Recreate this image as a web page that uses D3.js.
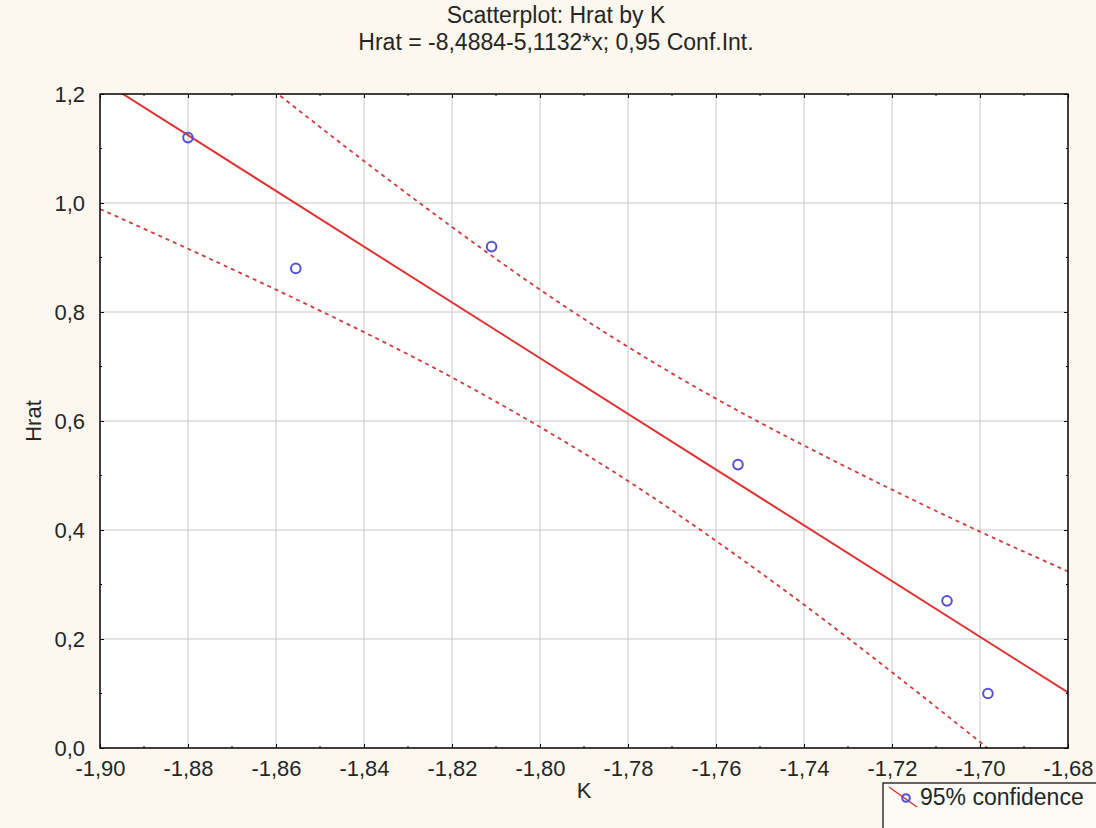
<!DOCTYPE html>
<html>
<head>
<meta charset="utf-8">
<script src="https://cdn.jsdelivr.net/npm/d3@7"></script>
<style>
  body { margin: 0; background: #fcf8ef; }
  svg { display: block; font-family: "Liberation Sans", Arial, sans-serif; }
</style>
</head>
<body>
<svg id="chart" width="1096" height="828"></svg>
<script>
// data
const kValues = [-1.880, -1.8555, -1.811, -1.755, -1.7075, -1.6982];
const hratValues = [1.12, 0.88, 0.92, 0.52, 0.27, 0.10];

// fitted line Hrat = -8,4884 - 5,1132*K, ends at the frame
const fitK = [-1.90, -1.68];
const fitH = [1.2267, 0.1018];

// 95% confidence band, read at each x tick
const bandK = [-1.90, -1.88, -1.86, -1.84, -1.82, -1.80, -1.78, -1.76, -1.74, -1.72, -1.70, -1.68];
const bandUpper = [1.465, 1.333, 1.203, 1.077, 0.956, 0.841, 0.736, 0.641, 0.555, 0.474, 0.397, 0.324];
const bandLower = [0.989, 0.916, 0.841, 0.763, 0.680, 0.589, 0.490, 0.380, 0.263, 0.139, 0.011, -0.120];

const xTicks = [-1.90, -1.88, -1.86, -1.84, -1.82, -1.80, -1.78, -1.76, -1.74, -1.72, -1.70, -1.68];
const yTicks = [0.0, 0.2, 0.4, 0.6, 0.8, 1.0, 1.2];

const titleText = "Scatterplot: Hrat by K";
const subtitleText = "Hrat = -8,4884-5,1132*x; 0,95 Conf.Int.";
const legendText = "95% confidence";

const svg = d3.select("#chart");
const margin = { top: 94, right: 28, bottom: 80, left: 100 };
const width = +svg.attr("width") - margin.left - margin.right;
const height = +svg.attr("height") - margin.top - margin.bottom;
const FS = 22;     // tick / axis text
const FT = 23;     // titles, legend

const locale = d3.formatLocale({ decimal: ",", thousands: " ", grouping: [3], currency: ["", ""], minus: "-" });
const fmtX = locale.format(".2f");
const fmtY = locale.format(".1f");

const x = d3.scaleLinear().domain([-1.90, -1.68]).range([0, width]);
const y = d3.scaleLinear().domain([0, 1.2]).range([height, 0]);

const red = "#e03434";
const dashRed = "#d43a3a";
const textCol = "#262626";

svg.append("rect").attr("width", 1096).attr("height", 828).attr("fill", "#fcf8ef");

// titles
svg.append("text").attr("x", 556).attr("y", 23).attr("text-anchor", "middle")
  .attr("font-size", FT).attr("fill", textCol).text(titleText);
svg.append("text").attr("x", 556).attr("y", 50).attr("text-anchor", "middle")
  .attr("font-size", FT).attr("fill", textCol).text(subtitleText);

const g = svg.append("g").attr("transform", `translate(${margin.left},${margin.top})`);

g.append("rect").attr("width", width).attr("height", height).attr("fill", "#ffffff");

g.append("clipPath").attr("id", "plotclip")
  .append("rect").attr("width", width).attr("height", height);

// grid
g.append("g")
  .selectAll("line").data(xTicks.slice(1, -1)).join("line")
  .attr("x1", d => x(d)).attr("x2", d => x(d)).attr("y1", 0).attr("y2", height)
  .attr("stroke", "#c8c8c8").attr("stroke-width", 1);
g.append("g")
  .selectAll("line").data(yTicks.slice(1, -1)).join("line")
  .attr("y1", d => y(d)).attr("y2", d => y(d)).attr("x1", 0).attr("x2", width)
  .attr("stroke", "#c8c8c8").attr("stroke-width", 1);

const plot = g.append("g").attr("clip-path", "url(#plotclip)");

// confidence band
const bandLine = d3.line().curve(d3.curveNatural).x(d => x(d[0])).y(d => y(d[1]));
[bandUpper, bandLower].forEach(vals => {
  plot.append("path")
    .datum(bandK.map((k, i) => [k, vals[i]]))
    .attr("d", bandLine)
    .attr("fill", "none")
    .attr("stroke", dashRed)
    .attr("stroke-width", 1.8)
    .attr("stroke-dasharray", "4,4");
});

// fit line
plot.append("path")
  .datum(fitK.map((k, i) => [k, fitH[i]]))
  .attr("d", d3.line().x(d => x(d[0])).y(d => y(d[1])))
  .attr("fill", "none").attr("stroke", red).attr("stroke-width", 2);

// points
g.selectAll("circle.pt").data(kValues).join("circle")
  .attr("class", "pt")
  .attr("cx", d => x(d)).attr("cy", (d, i) => y(hratValues[i]))
  .attr("r", 4.8).attr("fill", "none").attr("stroke", "#5550e0").attr("stroke-width", 2);

// axes
const minorX = d3.range(0, xTicks.length - 1).map(i => (xTicks[i] + xTicks[i + 1]) / 2);
const minorY = d3.range(0, yTicks.length - 1).map(i => (yTicks[i] + yTicks[i + 1]) / 2);

const xAxis = g.append("g").attr("transform", `translate(0,${height})`)
  .call(d3.axisBottom(x).tickValues(xTicks).tickFormat(fmtX).tickSize(-4))
  .call(a => a.select(".domain").remove());
xAxis.selectAll("text").attr("font-size", FS).attr("fill", textCol).attr("dy", null).attr("y", 28);
xAxis.selectAll(".tick line").attr("stroke", "#000");

const yAxis = g.append("g")
  .call(d3.axisLeft(y).tickValues(yTicks).tickFormat(fmtY).tickSize(-4))
  .call(a => a.select(".domain").remove());
yAxis.selectAll("text").attr("font-size", FS).attr("fill", textCol).attr("x", -15);
yAxis.selectAll(".tick line").attr("stroke", "#000");

// top / right ticks
g.append("g").call(d3.axisTop(x).tickValues(xTicks).tickFormat("").tickSize(-4))
  .call(a => a.select(".domain").remove());
g.append("g").attr("transform", `translate(${width},0)`)
  .call(d3.axisRight(y).tickValues(yTicks).tickFormat("").tickSize(-4))
  .call(a => a.select(".domain").remove());

// minor ticks
[[height, -2], [0, 2]].forEach(([y0, dir]) => {
  g.append("g").selectAll("line").data(minorX).join("line")
    .attr("x1", d => x(d)).attr("x2", d => x(d)).attr("y1", y0).attr("y2", y0 + dir)
    .attr("stroke", "#000");
});
[[0, 2], [width, -2]].forEach(([x0, dir]) => {
  g.append("g").selectAll("line").data(minorY).join("line")
    .attr("y1", d => y(d)).attr("y2", d => y(d)).attr("x1", x0).attr("x2", x0 + dir)
    .attr("stroke", "#000");
});

// frame
g.append("rect").attr("width", width).attr("height", height)
  .attr("fill", "none").attr("stroke", "#000").attr("stroke-width", 1.5);

// axis titles
svg.append("text").attr("x", margin.left + width / 2).attr("y", 798).attr("text-anchor", "middle")
  .attr("font-size", FS).attr("fill", textCol).text("K");
svg.append("text").attr("transform", `translate(41,${margin.top + height / 2}) rotate(-90)`)
  .attr("text-anchor", "middle").attr("font-size", FS).attr("fill", textCol).text("Hrat");

// legend
const lg = svg.append("g").attr("transform", "translate(883,783)");
lg.append("rect").attr("width", 230).attr("height", 60)
  .attr("fill", "#fdfbf6").attr("stroke", "#000").attr("stroke-width", 1.2);
lg.append("line").attr("x1", 6).attr("y1", 4).attr("x2", 34).attr("y2", 24)
  .attr("stroke", red).attr("stroke-width", 1.5);
lg.append("circle").attr("cx", 23).attr("cy", 15).attr("r", 3.8)
  .attr("fill", "none").attr("stroke", "#5550e0").attr("stroke-width", 2);
lg.append("text").attr("x", 37).attr("y", 22).attr("font-size", FT).attr("fill", textCol).text(legendText);
</script>
</body>
</html>
